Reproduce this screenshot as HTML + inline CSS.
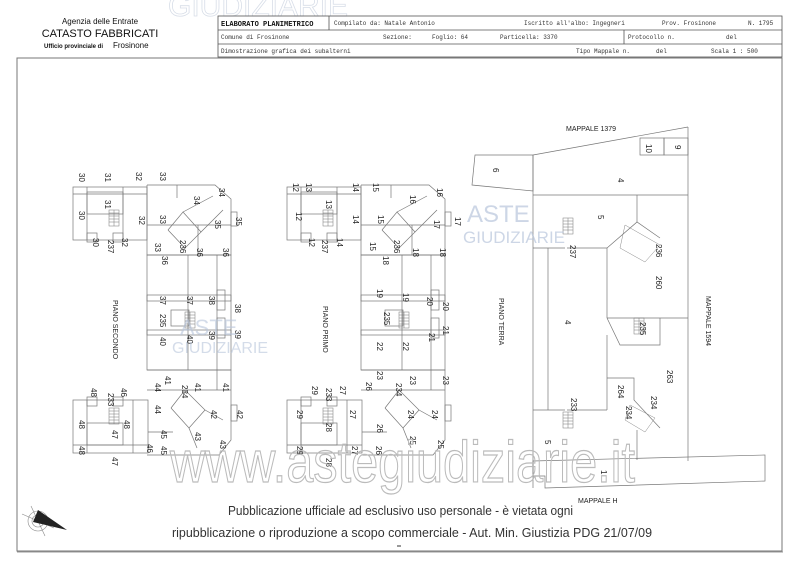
<!DOCTYPE html>
<html><head><meta charset="utf-8"><style>
html,body{margin:0;padding:0;background:#fff;width:800px;height:566px;overflow:hidden}
svg{display:block}
.m{font-family:"Liberation Mono",monospace;font-size:6px;fill:#333}
.n{font-family:"Liberation Sans",sans-serif;font-size:8px;fill:#222}
.s{font-family:"Liberation Sans",sans-serif;font-size:7px;fill:#222}
</style></head><body>
<svg width="800" height="566" viewBox="0 0 800 566" xmlns="http://www.w3.org/2000/svg">
<text x="168" y="16" font-family="Liberation Sans,sans-serif" font-size="30" fill="none" stroke="#d8dee8" stroke-width="0.8">GIUDIZIARIE</text>
<text x="100" y="24" text-anchor="middle" font-family="Liberation Sans,sans-serif" font-size="8" fill="#111">Agenzia delle Entrate</text>
<text x="100" y="37" text-anchor="middle" font-family="Liberation Sans,sans-serif" font-size="11" fill="#111">CATASTO FABBRICATI</text>
<text x="44" y="48" font-family="Liberation Sans,sans-serif" font-size="6" font-weight="bold" fill="#111">Ufficio provinciale di</text>
<text x="113" y="48" font-family="Liberation Sans,sans-serif" font-size="8" fill="#111">Frosinone</text>
<g stroke="#555" stroke-width="0.8" fill="none">
<rect x="218" y="16" width="564" height="41"/>
<line x1="218" y1="30" x2="782" y2="30"/>
<line x1="218" y1="44" x2="782" y2="44"/>
<line x1="329" y1="16" x2="329" y2="30"/>
<line x1="624" y1="30" x2="624" y2="44"/>
<rect x="17" y="58" width="765" height="493" stroke="#777" stroke-width="1"/>
</g>
<line x1="17" y1="552" x2="783" y2="552" stroke="#999" stroke-width="1"/>
<text x="221" y="26" font-family="Liberation Mono,monospace" font-size="7" font-weight="bold" fill="#111">ELABORATO PLANIMETRICO</text>
<text class="m" x="334" y="25">Compilato da: Natale Antonio</text>
<text class="m" x="524" y="25">Iscritto all'albo: Ingegneri</text>
<text class="m" x="662" y="25">Prov. Frosinone</text>
<text class="m" x="748" y="25">N. 1795</text>
<text class="m" x="221" y="39">Comune di Frosinone</text>
<text class="m" x="383" y="39">Sezione:</text>
<text class="m" x="432" y="39">Foglio: 64</text>
<text class="m" x="500" y="39">Particella: 3370</text>
<text class="m" x="628" y="39">Protocollo n.</text>
<text class="m" x="726" y="39">del</text>
<text class="m" x="221" y="53">Dimostrazione grafica dei subalterni</text>
<text class="m" x="576" y="53">Tipo Mappale n.</text>
<text class="m" x="656" y="53">del</text>
<text class="m" x="711" y="53">Scala 1 : 500</text>

<defs>
<g id="plan" stroke="#777" stroke-width="0.7" fill="none">
<rect x="0" y="187" width="74" height="53"/>
<polyline points="74,185 142,185 158,199 158,255 74,255 74,185"/>
<rect x="74" y="255" width="84" height="115"/>
<polyline points="74,370 158,370 158,440 146,455 74,455"/>
<rect x="0" y="400" width="75" height="53"/>
<line x1="14" y1="187" x2="14" y2="240"/><line x1="50" y1="187" x2="50" y2="240"/>
<rect x="14" y="192" width="36" height="22"/>
<rect x="14" y="233" width="10" height="9"/><rect x="40" y="233" width="10" height="9"/>
<line x1="0" y1="194" x2="74" y2="194"/>
<line x1="104" y1="185" x2="104" y2="198"/>
<line x1="74" y1="225" x2="158" y2="225"/><line x1="125" y1="225" x2="125" y2="255"/>
<polyline points="95,230 110,212 128,232 112,248 95,230"/>
<line x1="110" y1="212" x2="140" y2="196"/><line x1="128" y1="232" x2="150" y2="210"/>
<rect x="158" y="212" width="6" height="14"/>
<line x1="144" y1="255" x2="144" y2="370"/><line x1="115" y1="255" x2="115" y2="370"/>
<rect x="144" y="290" width="8" height="20"/><rect x="144" y="318" width="8" height="20"/>
<rect x="74" y="295" width="84" height="6"/><rect x="74" y="330" width="84" height="5" />
<rect x="98" y="310" width="18" height="16"/>
<line x1="74" y1="390" x2="158" y2="390"/><line x1="144" y1="370" x2="144" y2="390"/>
<polyline points="98,408 112,390 132,410 116,428 98,408"/>
<line x1="132" y1="410" x2="150" y2="420"/><line x1="116" y1="428" x2="124" y2="448"/>
<rect x="158" y="405" width="6" height="16"/>
<line x1="14" y1="400" x2="14" y2="453"/><line x1="60" y1="400" x2="60" y2="453"/>
<rect x="14" y="423" width="36" height="22"/><line x1="0" y1="445" x2="75" y2="445"/>
<rect x="14" y="397" width="10" height="9"/><rect x="40" y="397" width="10" height="9"/>
<line x1="75" y1="432" x2="100" y2="432"/>
</g>
<g id="stair" stroke="#777" stroke-width="0.5" fill="none">
<rect x="0" y="0" width="10" height="16"/>
<line x1="0" y1="3" x2="10" y2="3"/><line x1="0" y1="6" x2="10" y2="6"/><line x1="0" y1="9" x2="10" y2="9"/><line x1="0" y1="12" x2="10" y2="12"/><line x1="5" y1="0" x2="5" y2="16"/>
</g>
</defs>
<use href="#plan" x="73"/>
<use href="#plan" x="287"/>
<use href="#stair" x="109" y="210"/><use href="#stair" x="109" y="408"/><use href="#stair" x="185" y="312"/>
<use href="#stair" x="323" y="210"/><use href="#stair" x="323" y="408"/><use href="#stair" x="399" y="312"/>

<g stroke="#777" stroke-width="0.7" fill="none">
<polygon points="475,155 533,155 533,191 472,185"/>
<polyline points="533,155 533,488"/>
<line x1="533" y1="155" x2="688" y2="127"/>
<line x1="688" y1="127" x2="688" y2="461"/>
<rect x="640" y="138" width="24" height="17"/><rect x="664" y="138" width="24" height="17"/>
<line x1="533" y1="195" x2="688" y2="195"/>
<line x1="637" y1="195" x2="637" y2="222"/>
<line x1="548" y1="248" x2="548" y2="410"/>
<line x1="533" y1="248" x2="565" y2="248"/><line x1="533" y1="410" x2="565" y2="410"/>
<line x1="567" y1="248" x2="607" y2="248"/>
<line x1="607" y1="248" x2="607" y2="318"/>
<polyline points="607,248 637,222 660,238"/>
<line x1="607" y1="318" x2="688" y2="318"/>
<polyline points="607,318 620,345 660,345 660,318"/>
<line x1="607" y1="335" x2="607" y2="378"/>
<polyline points="607,378 634,378 634,400 660,428"/>
<line x1="607" y1="378" x2="607" y2="410"/>
<line x1="567" y1="410" x2="607" y2="410"/>
<line x1="637" y1="430" x2="637" y2="460"/>
<polygon points="533,461 765,455 765,481 545,488 545,476 533,476"/>
</g>
<use href="#stair" x="563" y="218"/><use href="#stair" x="634" y="318"/><use href="#stair" x="563" y="412"/>
<g stroke="#888" stroke-width="0.5" fill="none">
<polyline points="625,225 660,245 645,262 620,248 625,225"/>
<polyline points="630,405 655,418 645,432 625,420 630,405"/>
</g>

<g class="n">
<text transform="translate(79,173) rotate(90)">30</text>
<text transform="translate(105,173) rotate(90)">31</text>
<text transform="translate(136,172) rotate(90)">32</text>
<text transform="translate(160,172) rotate(90)">33</text>
<text transform="translate(79,211) rotate(90)">30</text>
<text transform="translate(105,200) rotate(90)">31</text>
<text transform="translate(139,216) rotate(90)">32</text>
<text transform="translate(160,215) rotate(90)">33</text>
<text transform="translate(194,196) rotate(90)">34</text>
<text transform="translate(219,188) rotate(90)">34</text>
<text transform="translate(215,220) rotate(90)">35</text>
<text transform="translate(236,217) rotate(90)">35</text>
<text transform="translate(197,248) rotate(90)">36</text>
<text transform="translate(223,248) rotate(90)">36</text>
<text transform="translate(155,243) rotate(90)">33</text>
<text transform="translate(162,256) rotate(90)">36</text>
<text transform="translate(93,238) rotate(90)">30</text>
<text transform="translate(108,240) rotate(90)">237</text>
<text transform="translate(122,238) rotate(90)">32</text>
<text transform="translate(180,240) rotate(90)">236</text>
<text transform="translate(160,296) rotate(90)">37</text>
<text transform="translate(187,296) rotate(90)">37</text>
<text transform="translate(209,296) rotate(90)">38</text>
<text transform="translate(235,304) rotate(90)">38</text>
<text transform="translate(160,314) rotate(90)">235</text>
<text transform="translate(160,337) rotate(90)">40</text>
<text transform="translate(187,335) rotate(90)">40</text>
<text transform="translate(209,331) rotate(90)">39</text>
<text transform="translate(235,330) rotate(90)">39</text>
<text transform="translate(165,376) rotate(90)">41</text>
<text transform="translate(155,383) rotate(90)">44</text>
<text transform="translate(195,383) rotate(90)">41</text>
<text transform="translate(223,383) rotate(90)">41</text>
<text transform="translate(155,405) rotate(90)">44</text>
<text transform="translate(108,393) rotate(90)">233</text>
<text transform="translate(91,388) rotate(90)">48</text>
<text transform="translate(121,388) rotate(90)">46</text>
<text transform="translate(124,420) rotate(90)">48</text>
<text transform="translate(79,420) rotate(90)">48</text>
<text transform="translate(112,430) rotate(90)">47</text>
<text transform="translate(182,385) rotate(90)">234</text>
<text transform="translate(211,410) rotate(90)">42</text>
<text transform="translate(237,410) rotate(90)">42</text>
<text transform="translate(161,430) rotate(90)">45</text>
<text transform="translate(195,432) rotate(90)">43</text>
<text transform="translate(161,446) rotate(90)">45</text>
<text transform="translate(147,444) rotate(90)">46</text>
<text transform="translate(79,446) rotate(90)">48</text>
<text transform="translate(112,457) rotate(90)">47</text>
<text transform="translate(220,440) rotate(90)">43</text>

<text transform="translate(293,183) rotate(90)">12</text>
<text transform="translate(306,183) rotate(90)">13</text>
<text transform="translate(353,183) rotate(90)">14</text>
<text transform="translate(373,183) rotate(90)">15</text>
<text transform="translate(296,212) rotate(90)">12</text>
<text transform="translate(326,200) rotate(90)">13</text>
<text transform="translate(353,215) rotate(90)">14</text>
<text transform="translate(378,215) rotate(90)">15</text>
<text transform="translate(410,195) rotate(90)">16</text>
<text transform="translate(437,188) rotate(90)">16</text>
<text transform="translate(434,220) rotate(90)">17</text>
<text transform="translate(455,217) rotate(90)">17</text>
<text transform="translate(413,248) rotate(90)">18</text>
<text transform="translate(440,248) rotate(90)">18</text>
<text transform="translate(370,242) rotate(90)">15</text>
<text transform="translate(383,256) rotate(90)">18</text>
<text transform="translate(309,238) rotate(90)">12</text>
<text transform="translate(322,240) rotate(90)">237</text>
<text transform="translate(337,238) rotate(90)">14</text>
<text transform="translate(394,240) rotate(90)">236</text>
<text transform="translate(377,289) rotate(90)">19</text>
<text transform="translate(403,293) rotate(90)">19</text>
<text transform="translate(427,297) rotate(90)">20</text>
<text transform="translate(443,302) rotate(90)">20</text>
<text transform="translate(384,312) rotate(90)">235</text>
<text transform="translate(377,342) rotate(90)">22</text>
<text transform="translate(403,342) rotate(90)">22</text>
<text transform="translate(429,333) rotate(90)">21</text>
<text transform="translate(443,326) rotate(90)">21</text>
<text transform="translate(377,371) rotate(90)">23</text>
<text transform="translate(366,382) rotate(90)">26</text>
<text transform="translate(410,376) rotate(90)">23</text>
<text transform="translate(443,376) rotate(90)">23</text>
<text transform="translate(396,383) rotate(90)">234</text>
<text transform="translate(312,386) rotate(90)">29</text>
<text transform="translate(326,388) rotate(90)">233</text>
<text transform="translate(340,386) rotate(90)">27</text>
<text transform="translate(350,410) rotate(90)">27</text>
<text transform="translate(297,410) rotate(90)">29</text>
<text transform="translate(326,423) rotate(90)">28</text>
<text transform="translate(377,424) rotate(90)">26</text>
<text transform="translate(408,410) rotate(90)">24</text>
<text transform="translate(432,410) rotate(90)">24</text>
<text transform="translate(410,436) rotate(90)">25</text>
<text transform="translate(438,440) rotate(90)">25</text>
<text transform="translate(297,446) rotate(90)">29</text>
<text transform="translate(352,446) rotate(90)">27</text>
<text transform="translate(376,446) rotate(90)">26</text>
<text transform="translate(326,458) rotate(90)">28</text>

<text transform="translate(493,168) rotate(90)">6</text>
<text transform="translate(618,178) rotate(90)">4</text>
<text transform="translate(646,144) rotate(90)">10</text>
<text transform="translate(675,145) rotate(90)">9</text>
<text transform="translate(598,215) rotate(90)">5</text>
<text transform="translate(570,245) rotate(90)">237</text>
<text transform="translate(656,244) rotate(90)">236</text>
<text transform="translate(656,276) rotate(90)">260</text>
<text transform="translate(565,320) rotate(90)">4</text>
<text transform="translate(640,322) rotate(90)">235</text>
<text transform="translate(667,370) rotate(90)">263</text>
<text transform="translate(618,385) rotate(90)">264</text>
<text transform="translate(651,396) rotate(90)">234</text>
<text transform="translate(626,406) rotate(90)">234</text>
<text transform="translate(571,398) rotate(90)">233</text>
<text transform="translate(545,440) rotate(90)">5</text>
<text transform="translate(601,470) rotate(90)">1</text>
</g>
<g class="s">
<text transform="translate(113,300) rotate(90)">PIANO SECONDO</text>
<text transform="translate(323,306) rotate(90)">PIANO PRIMO</text>
<text transform="translate(499,298) rotate(90)">PIANO TERRA</text>
<text transform="translate(706,296) rotate(90)">MAPPALE 1594</text>
<text x="566" y="131">MAPPALE 1379</text>
<text x="578" y="503">MAPPALE H</text>
</g>

<text x="467" y="222" font-family="Liberation Sans,sans-serif" font-size="24" fill="#b8c6dc" opacity="0.7">ASTE</text>
<text x="463" y="243" font-family="Liberation Sans,sans-serif" font-size="17" fill="#b8c6dc" opacity="0.7">GIUDIZIARIE</text>
<text x="180" y="335" font-family="Liberation Sans,sans-serif" font-size="22" fill="#b8c6dc" opacity="0.6">ASTE</text>
<text x="172" y="353" font-family="Liberation Sans,sans-serif" font-size="16" fill="#b8c6dc" opacity="0.6">GIUDIZIARIE</text>
<text x="170" y="482" font-family="Liberation Sans,sans-serif" font-size="58" fill="none" stroke="#bbb" stroke-width="1.2" textLength="465" lengthAdjust="spacingAndGlyphs">www.astegiudiziarie.it</text>

<g stroke="#888" stroke-width="0.6" fill="none">
<circle cx="38" cy="521" r="10"/><circle cx="38" cy="521" r="6"/>
<line x1="22" y1="514" x2="54" y2="528"/><line x1="31" y1="506" x2="45" y2="536"/>
</g>
<polygon points="38,510 67,530 33,522" fill="#222"/>

<text x="228" y="515" font-family="Liberation Sans,sans-serif" font-size="13" fill="#333" textLength="345" lengthAdjust="spacingAndGlyphs">Pubblicazione ufficiale ad esclusivo uso personale - è vietata ogni</text>
<text x="172" y="537" font-family="Liberation Sans,sans-serif" font-size="13" fill="#333" textLength="480" lengthAdjust="spacingAndGlyphs">ripubblicazione o riproduzione a scopo commerciale - Aut. Min. Giustizia PDG 21/07/09</text>
<line x1="397" y1="546" x2="401" y2="546" stroke="#333"/>
</svg>
</body></html>
